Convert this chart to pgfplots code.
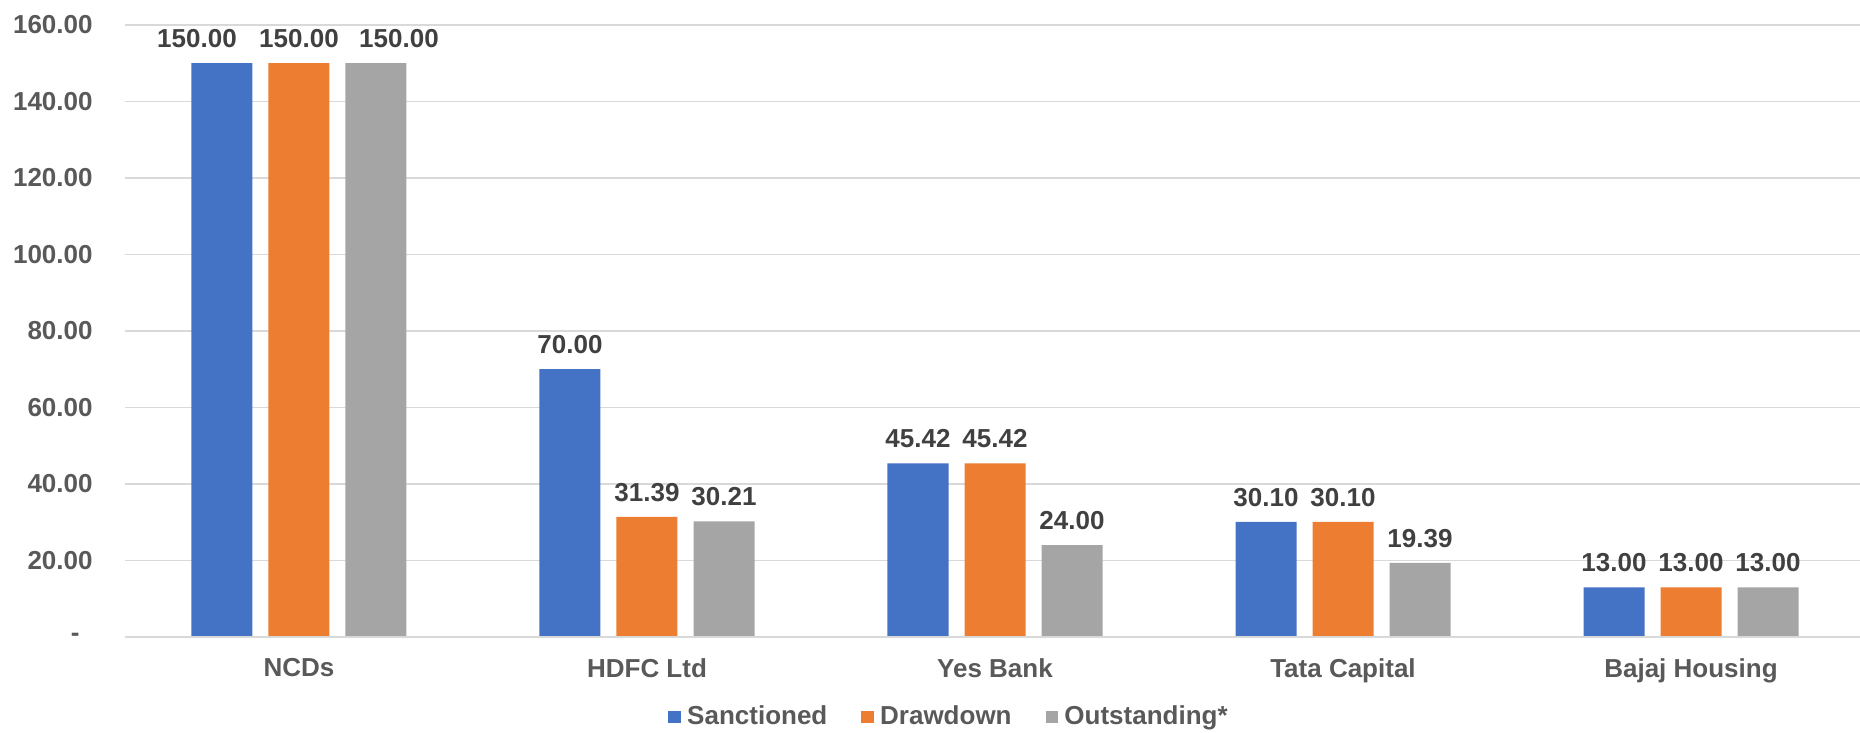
\documentclass[border=0pt]{standalone}
\usepackage{pgfplots}
\pgfplotsset{compat=1.18}
\usepackage{fontspec}
\setmainfont{Liberation Sans}
\definecolor{cBlue}{HTML}{4472C4}
\definecolor{cOrange}{HTML}{ED7D31}
\definecolor{cGray}{HTML}{A5A5A5}
\definecolor{cGrid}{HTML}{D9D9D9}
\definecolor{cTick}{HTML}{595959}
\definecolor{cLab}{HTML}{404040}
\begin{document}
\begin{tikzpicture}
\path[use as bounding box] (-62.5pt,-48pt) rectangle (867.5pt,318.5pt);
\begin{axis}[
  scale only axis,
  width=870pt, height=306pt,
  xmin=-0.5, xmax=4.5, ymin=0, ymax=160,
  ybar=8pt, bar width=30.5pt,
  axis line style={draw=none},
  axis x line*=bottom,
  xtick={0,1,2,3,4},
  xticklabels={NCDs,HDFC Ltd,Yes Bank,Tata Capital,Bajaj Housing},
  ytick={0,20,40,60,80,100,120,140,160},
  yticklabels={{\raisebox{-1pt}{-}\hspace*{6.5pt}},20.00,40.00,60.00,80.00,100.00,120.00,140.00,160.00},
  major tick length=0pt,
  ymajorgrids, grid style={draw=cGrid, line width=0.8pt},
  xticklabel style={font=\fontsize{13}{15}\selectfont\bfseries, text=cTick, anchor=north, inner sep=0pt, yshift=-10.5pt},
  yticklabel style={font=\fontsize{13}{15}\selectfont\bfseries, text=cTick, anchor=east, inner sep=0pt, xshift=-16pt},
  point meta=explicit symbolic,
  nodes near coords,
  every node near coord/.append style={font=\fontsize{13}{15}\selectfont\bfseries, text=cLab, anchor=south, inner sep=0pt, yshift=7.5pt},
  legend image code/.code={\fill[#1] (0pt,-3.2pt) rectangle (6.4pt,3.2pt);},
  legend style={at={(rel axis cs:0.473,-0.1307)}, anchor=center, draw=none, fill=none,
    legend columns=-1, font=\fontsize{13}{15}\selectfont\bfseries, text=cTick,
    nodes={inner sep=0pt},
    /tikz/every odd column/.append style={column sep=3pt},
    /tikz/every even column/.append style={column sep=17pt}},
]
\addplot[fill=cBlue, draw=none] coordinates {(0,150) [{150.00\hspace*{25pt}}] (1,70) [70.00] (2,45.42) [45.42] (3,30.10) [30.10] (4,13) [13.00]};
\addplot[fill=cOrange, draw=none] coordinates {(0,150) [150.00] (1,31.39) [31.39] (2,45.42) [45.42] (3,30.10) [30.10] (4,13) [13.00]};
\addplot[fill=cGray, draw=none] coordinates {(0,150) [{\hspace*{23pt}150.00}] (1,30.21) [30.21] (2,24) [24.00] (3,19.39) [19.39] (4,13) [13.00]};
\legend{Sanctioned,Drawdown,Outstanding*}
\draw[cGrid, line width=1.2pt] (rel axis cs:0,0) -- (rel axis cs:1,0);
\end{axis}
\end{tikzpicture}
\end{document}
